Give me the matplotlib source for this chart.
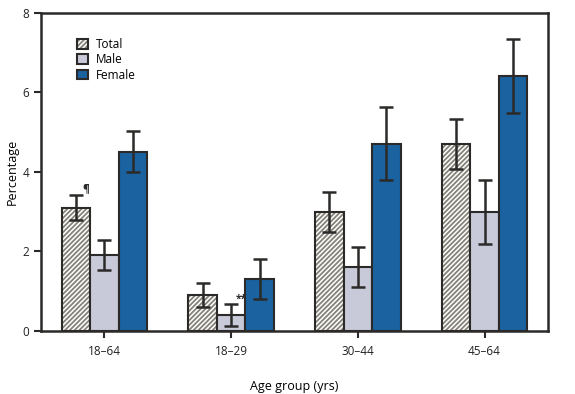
import numpy as np
import matplotlib.pyplot as plt

plt.rcParams['font.family'] = ['Open Sans', 'DejaVu Sans']
plt.rcParams['hatch.linewidth'] = 1.3

groups = ["18–64", "18–29", "30–44", "45–64"]
total = [3.1, 0.91, 3.0, 4.7]
total_lo = [2.79, 0.61, 2.5, 4.08]
total_hi = [3.42, 1.2, 3.5, 5.33]
male = [1.92, 0.41, 1.6, 3.0]
male_lo = [1.53, 0.13, 1.1, 2.2]
male_hi = [2.29, 0.68, 2.1, 3.81]
female = [4.51, 1.31, 4.7, 6.41]
female_lo = [4.0, 0.8, 3.79, 5.48]
female_hi = [5.03, 1.81, 5.64, 7.35]

dark = "#2b2a29"
fig = plt.figure(figsize=(5.75, 3.94), dpi=100)
ax = fig.add_axes([0.0713, 0.160, 0.8817, 0.807])

x = np.arange(len(groups))
w = 0.225
series = [
    ("Total", total, total_lo, total_hi, dict(facecolor="white", hatch="///////")),
    ("Male", male, male_lo, male_hi, dict(facecolor="#c9cad9")),
    ("Female", female, female_lo, female_hi, dict(facecolor="#1b62a0")),
]
for i, (name, vals, lo, hi, style) in enumerate(series):
    pos = x + (i - 1) * w
    vals = np.array(vals)
    err = [vals - np.array(lo), np.array(hi) - vals]
    bars = ax.bar(pos, vals, w, label=name, edgecolor=dark, linewidth=1.5, zorder=2, **style)
    if name == "Total":
        for b in bars:
            b._hatch_color = (0.52, 0.51, 0.47, 1.0)
    ax.errorbar(pos, vals, yerr=err, fmt="none", ecolor=dark, elinewidth=1.8,
                capsize=5, capthick=1.8, zorder=3)

ax.text(x[0] - w + 0.08, total_hi[0] + 0.02, "¶", fontsize=7.5, color=dark, ha="center",
        va="bottom", fontweight="bold")
ax.text(x[1] + 0.08, male_hi[1] - 0.02, "**", fontsize=7.5, color=dark, ha="center", va="bottom",
        fontweight="bold")

ax.set_xlim(-0.5, 3.5)
ax.set_ylim(0, 8)
ax.set_yticks([0, 2, 4, 6, 8])
ax.set_xticks(x)
ax.set_xticklabels(groups)
ax.tick_params(direction="out", length=5, width=1.5, color=dark, labelsize=8.5, labelcolor="#222222")
ax.tick_params(axis="x", pad=5)
for s in ax.spines.values():
    s.set_linewidth(1.8)
    s.set_color(dark)
ax.set_ylabel("Percentage", fontsize=9, labelpad=3)
ax.set_xlabel("Age group (yrs)", fontsize=9, labelpad=16)

leg = ax.legend(loc="upper left", bbox_to_anchor=(0.05, 0.955), frameon=False, fontsize=8.5,
                handlelength=0.9, handleheight=0.9, handletextpad=0.7, labelspacing=0.2)
for h in leg.legend_handles:
    h.set_linewidth(1.5)

fig.savefig("out.png", dpi=100)
